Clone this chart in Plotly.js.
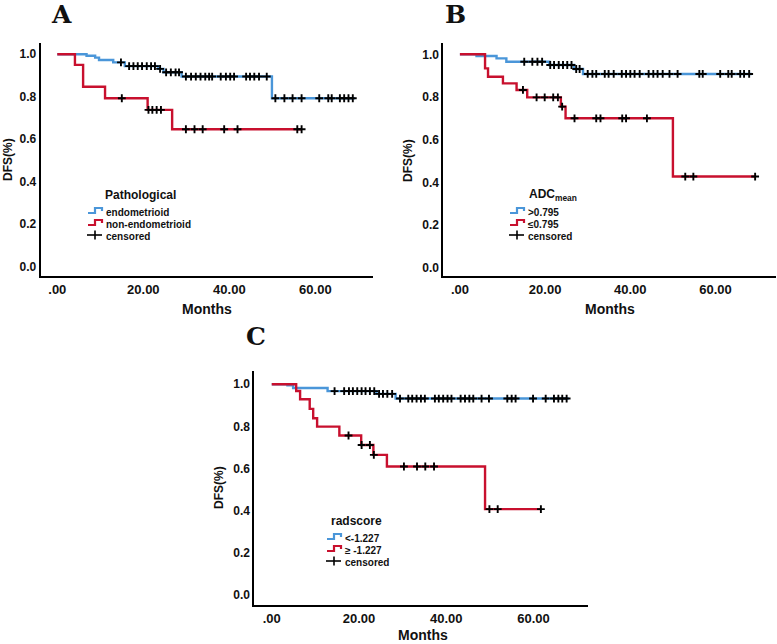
<!DOCTYPE html>
<html lang="en">
<head>
    <meta charset="UTF-8">
    <title>DFS Kaplan-Meier curves</title>
    <style>
        body { margin: 0; background: #fff; }
        #plot { width: 777px; height: 644px; }
    </style>
</head>
<body>
<div id="plot"></div>
<script src="https://cdn.plot.ly/plotly-3.0.1.min.js"></script>
<script>
    // Panel A - Pathological
    var endoTimes = [6.8, 8.8, 9.7, 13.0, 15.7, 23.5, 24.7, 28.9, 49.9];
    var endoSurv = [0.993, 0.984, 0.973, 0.962, 0.944, 0.931, 0.915, 0.895, 0.793];
    var endoEnd = 69.2;
    var endoCensor = [14.8, 16.7, 17.7, 18.7, 19.7, 20.8, 21.8, 22.7, 23.9, 25.3, 26.4, 27.5, 28.3,
        29.9, 31.1, 32.2, 33.3, 34.4, 35.3, 36.0, 38.0, 39.2, 40.2, 41.1, 43.9, 44.8, 45.8, 46.9, 48.7,
        50.7, 52.8, 54.7, 56.8, 60.9, 63.0, 63.8, 65.7, 66.7, 67.7, 68.7];
    var nonEndoTimes = [4.1, 6.0, 11.1, 21.0, 26.7];
    var nonEndoSurv = [0.95, 0.847, 0.793, 0.738, 0.647];
    var nonEndoEnd = 56.8;
    var nonEndoCensor = [15.0, 21.2, 22.1, 23.1, 24.1, 29.9, 31.9, 33.8, 38.8, 41.9, 55.8, 56.8];

    // Panel B - ADCmean
    var adcHighTimes = [3.9, 8.6, 10.9, 21.0, 26.8, 28.9];
    var adcHighSurv = [0.992, 0.981, 0.965, 0.95, 0.931, 0.908];
    var adcHighEnd = 68.5;
    var adcHighCensor = [15.1, 17.0, 18.2, 19.3, 21.2, 22.1, 23.2, 24.2, 25.2, 26.2, 27.3, 28.1,
        30.0, 31.1, 32.0, 34.0, 34.9, 36.1, 38.0, 39.0, 40.0, 41.0, 42.2, 44.3, 45.4, 46.4, 47.6,
        49.2, 51.1, 56.2, 57.0, 61.1, 63.0, 63.8, 65.8, 66.7, 67.9];
    var adcLowTimes = [5.9, 6.6, 10.1, 13.3, 15.8, 23.7, 24.8, 50.0];
    var adcLowSurv = [0.934, 0.895, 0.864, 0.833, 0.798, 0.755, 0.70, 0.427];
    var adcLowEnd = 69.3;
    var adcLowCensor = [14.8, 18.0, 19.9, 21.9, 23.0, 24.0, 26.9, 32.0, 33.0, 38.1, 39.0, 43.9, 52.9, 54.8, 69.3];

    // Panel C - radscore
    var radLowTimes = [3.6, 4.9, 12.8, 24.0, 28.4];
    var radLowSurv = [0.995, 0.982, 0.967, 0.954, 0.932];
    var radLowEnd = 68.1;
    var radLowCensor = [14.4, 16.6, 17.7, 18.6, 19.6, 20.6, 21.5, 22.5, 23.5, 24.6, 25.5, 26.5, 27.6,
        29.4, 31.3, 32.2, 33.2, 34.2, 35.1, 37.4, 38.3, 39.3, 40.3, 41.2, 43.3, 44.3, 45.3, 46.2,
        48.1, 49.8, 54.0, 55.0, 55.9, 59.9, 62.8, 64.7, 65.7, 66.6, 67.6];
    var radHighTimes = [5.6, 6.5, 8.7, 9.5, 10.4, 15.5, 20.5, 23.3, 26.4, 48.9];
    var radHighSurv = [0.968, 0.929, 0.883, 0.839, 0.799, 0.757, 0.712, 0.665, 0.61, 0.408];
    var radHighEnd = 61.7;
    var radHighCensor = [17.6, 20.6, 22.5, 23.4, 30.3, 33.3, 35.2, 37.2, 49.9, 51.8, 61.7];

    var tickVals = [0, 20, 40, 60];
    var tickText = ['.00', '20.00', '40.00', '60.00'];
    var yTicks = [0, 0.2, 0.4, 0.6, 0.8, 1.0];

    var BLUE = '#4a96d9';
    var RED = '#c8102e';
    var W = 777, H = 644;
    var FONT = 'Liberation Sans, Arial, sans-serif';

    function px(x) { return x / W; }
    function py(y) { return 1 - y / H; }

    function survAt(times, surv, t) {
        var s = 1;
        for (var i = 0; i < times.length; i++) {
            if (t >= times[i]) s = surv[i];
        }
        return s;
    }

    function stepTrace(times, surv, end, color, ax) {
        return {
            x: [0].concat(times, [end]),
            y: [1].concat(surv, [surv[surv.length - 1]]),
            type: 'scatter', mode: 'lines',
            line: {shape: 'hv', color: color, width: 2.4},
            xaxis: 'x' + ax, yaxis: 'y' + ax,
            hoverinfo: 'skip', showlegend: false
        };
    }

    function censorTrace(times, surv, censor, ax) {
        return {
            x: censor,
            y: censor.map(function (t) { return survAt(times, surv, t); }),
            type: 'scatter', mode: 'markers',
            marker: {symbol: 'cross-thin', size: 5.6, line: {color: 'black', width: 1.9}},
            xaxis: 'x' + ax, yaxis: 'y' + ax,
            hoverinfo: 'skip', showlegend: false
        };
    }

    var data = [
        stepTrace(endoTimes, endoSurv, endoEnd, BLUE, ''),
        stepTrace(nonEndoTimes, nonEndoSurv, nonEndoEnd, RED, ''),
        censorTrace(endoTimes, endoSurv, endoCensor, ''),
        censorTrace(nonEndoTimes, nonEndoSurv, nonEndoCensor, ''),
        stepTrace(adcHighTimes, adcHighSurv, adcHighEnd, BLUE, '2'),
        stepTrace(adcLowTimes, adcLowSurv, adcLowEnd, RED, '2'),
        censorTrace(adcHighTimes, adcHighSurv, adcHighCensor, '2'),
        censorTrace(adcLowTimes, adcLowSurv, adcLowCensor, '2'),
        stepTrace(radLowTimes, radLowSurv, radLowEnd, BLUE, '3'),
        stepTrace(radHighTimes, radHighSurv, radHighEnd, RED, '3'),
        censorTrace(radLowTimes, radLowSurv, radLowCensor, '3'),
        censorTrace(radHighTimes, radHighSurv, radHighCensor, '3')
    ];

    function xAxis(domain, range, anchor) {
        return {
            domain: domain, range: range, anchor: anchor,
            showline: true, linecolor: 'black', linewidth: 2,
            showgrid: false, zeroline: false, ticks: '',
            tickvals: tickVals, ticktext: tickText,
            tickfont: {family: FONT, size: 13, color: '#111', weight: 'bold'},
            fixedrange: true
        };
    }

    function yAxis(domain, range, anchor) {
        return {
            domain: domain, range: range, anchor: anchor,
            showline: true, linecolor: 'black', linewidth: 2,
            showgrid: false, zeroline: false, ticks: '',
            tickvals: yTicks, tickformat: '.1f',
            tickfont: {family: FONT, size: 12, color: '#111', weight: 'bold'},
            fixedrange: true
        };
    }

    var annotations = [];
    var shapes = [];

    function addText(text, x, y, size, opts) {
        opts = opts || {};
        annotations.push({
            text: text, xref: 'paper', yref: 'paper',
            x: px(x), y: py(y),
            xanchor: opts.xanchor || 'center', yanchor: 'middle',
            textangle: opts.angle || 0, showarrow: false,
            font: {family: opts.family || FONT, size: size, color: '#111', weight: 'bold'}
        });
    }

    // step-like legend icon + censored cross
    function addLegend(x, y, title, blueLabel, redLabel, titleX) {
        addText(title, titleX, y, 12, {xanchor: 'left'});
        var rows = [[y + 16, BLUE, blueLabel], [y + 28, RED, redLabel]];
        rows.forEach(function (r) {
            var yy = r[0];
            shapes.push({
                type: 'path', xref: 'paper', yref: 'paper',
                path: 'M' + px(x) + ',' + py(yy + 2) + ' L' + px(x + 7) + ',' + py(yy + 2) +
                    ' L' + px(x + 7) + ',' + py(yy - 3) + ' L' + px(x + 14) + ',' + py(yy - 3) +
                    ' L' + px(x + 14) + ',' + py(yy),
                line: {color: r[1], width: 2.2}
            });
            addText(r[2], x + 16, yy + 1, 10, {xanchor: 'left'});
        });
        var cy = y + 40;
        shapes.push({type: 'line', xref: 'paper', yref: 'paper',
            x0: px(x - 1), x1: px(x + 14), y0: py(cy), y1: py(cy), line: {color: 'black', width: 1.6}});
        shapes.push({type: 'line', xref: 'paper', yref: 'paper',
            x0: px(x + 7), x1: px(x + 7), y0: py(cy - 4.5), y1: py(cy + 4.5), line: {color: 'black', width: 1.6}});
        addText('censored', x + 16, cy + 1, 10, {xanchor: 'left'});
    }

    // panel letters
    addText('A', 61, 15, 25, {family: 'DejaVu Serif, serif'});
    addText('B', 455, 15, 25, {family: 'DejaVu Serif, serif'});
    addText('C', 256, 336, 25, {family: 'DejaVu Serif, serif'});

    // axis titles
    addText('Months', 207, 309, 14);
    addText('Months', 610, 309, 14);
    addText('Months', 423, 635, 14);
    addText('DFS(%)', 8, 160, 12, {angle: -90});
    addText('DFS(%)', 408, 160, 12, {angle: -90});
    addText('DFS(%)', 219, 488, 12, {angle: -90});

    addLegend(88, 195, 'Pathological', 'endometrioid', 'non-endometrioid', 103);
    addLegend(510, 195, 'ADC<sub>mean</sub>', '&gt;0.795', '≤0.795', 527);
    addLegend(327, 521, 'radscore', '&lt;-1.227', '≥ -1.227', 329);

    var layout = {
        width: W, height: H,
        margin: {l: 0, r: 0, t: 0, b: 0},
        paper_bgcolor: 'white', plot_bgcolor: 'white',
        showlegend: false,
        xaxis: xAxis([px(40.7), px(373)], [-3.86, 73.4], 'y'),
        yaxis: yAxis([py(276), py(43)], [-0.044, 1.053], 'x'),
        xaxis2: xAxis([px(443.3), px(776)], [-3.9, 74.2], 'y2'),
        yaxis2: yAxis([py(276), py(43)], [-0.039, 1.053], 'x2'),
        xaxis3: xAxis([px(254.3), px(588)], [-4.0, 72.5], 'y3'),
        yaxis3: yAxis([py(605), py(370.7)], [-0.046, 1.064], 'x3'),
        annotations: annotations,
        shapes: shapes
    };

    Plotly.newPlot('plot', data, layout, {displayModeBar: false, staticPlot: true});
</script>
</body>
</html>
